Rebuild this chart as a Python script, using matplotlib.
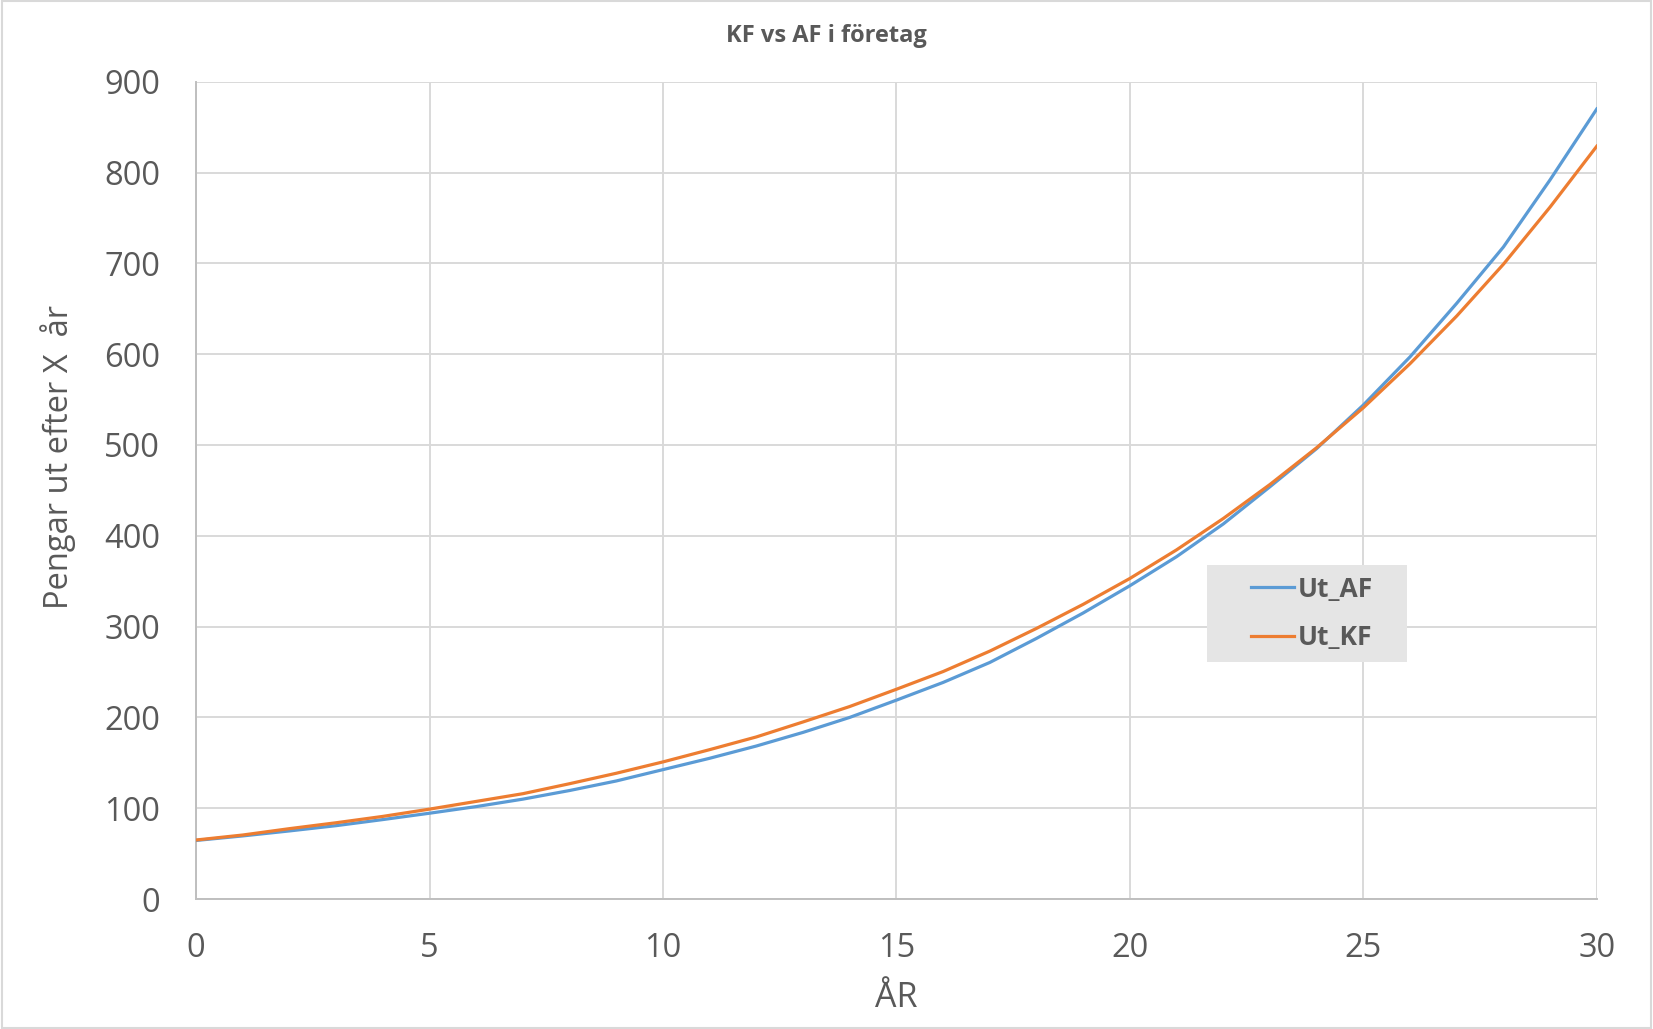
import matplotlib
matplotlib.use('Agg')
import matplotlib.pyplot as plt
from matplotlib.patches import Rectangle

# data (one point per year)
years = list(range(0, 31))
ut_af = [64.5, 69.5, 75, 80.8, 87.5, 94.5, 101.8, 110, 119.5, 130,
         142.5, 155, 168.5, 183.5, 200, 219, 238.5, 260.5, 287, 315,
         345, 377, 413, 454, 496, 544, 597, 656, 718, 792, 870]
ut_kf = [65, 70.5, 77.5, 84, 91, 99, 107.5, 116, 127, 138.5,
         151, 164.5, 178.5, 195, 212, 231, 250.5, 273, 298, 324.5,
         353, 384.5, 419, 456.5, 497, 541, 589.5, 642, 699, 762, 829]
series_names = ['Ut_AF', 'Ut_KF']
x_ticks = [0, 5, 10, 15, 20, 25, 30]
y_ticks = [0, 100, 200, 300, 400, 500, 600, 700, 800, 900]

plt.rcParams['font.family'] = ['Open Sans', 'DejaVu Sans']
txt = '#595959'
grid_c = '#d9d9d9'

fig = plt.figure(figsize=(16.53, 10.29), dpi=100)
ax = fig.add_axes([0.1186, 0.1263, 0.966 - 0.1186, 0.9206 - 0.1263])

ax.plot(years, ut_af, color='#5B9BD5', lw=2.3, label=series_names[0], zorder=3)
ax.plot(years, ut_kf, color='#ED7D31', lw=2.3, label=series_names[1], zorder=3)

ax.set_xlim(0, 30)
ax.set_ylim(0, 900)
ax.set_xticks(x_ticks)
ax.set_yticks(y_ticks)
ax.grid(True, color=grid_c, lw=1.4)
ax.set_axisbelow(True)
for s in ['top', 'right']:
    ax.spines[s].set_visible(False)
for s in ['left', 'bottom']:
    ax.spines[s].set_color('#bfbfbf')
    ax.spines[s].set_linewidth(1.4)
ax.tick_params(length=0, labelsize=23.5, labelcolor=txt)
ax.tick_params(axis='y', pad=26)
ax.tick_params(axis='x', pad=24)

fig.text(0.5, 0.965, 'KF vs AF i företag', ha='center', va='center',
         fontsize=17, fontweight='bold', color=txt)
# x-axis title sits under the middle of the plot area
fig.text(0.5423, 0.030, 'ÅR', ha='center', va='center', fontsize=24.5, color=txt)
fig.text(0.035, 0.556, 'Pengar ut efter X  år', ha='center', va='center',
         rotation=90, fontsize=23.5, color=txt)

# grey legend box, drawn on its own (inside the axes so the legend sits on top)
ax.add_patch(Rectangle((0.730, 0.357), 0.121, 0.094, transform=fig.transFigure,
                       facecolor='#e5e5e5', edgecolor='none', zorder=4, clip_on=False))
leg = ax.legend(loc='center', bbox_to_anchor=(0.7937, 0.404), bbox_transform=fig.transFigure,
                frameon=False, fontsize=19, handlelength=1.65, handletextpad=0.15,
                labelspacing=0.8, borderpad=0, borderaxespad=0)
leg.set_zorder(6)
for t in leg.get_texts():
    t.set_color(txt)
    t.set_fontweight('bold')

# chart border
fig.patches.append(Rectangle((0.001, 0.001), 0.998, 0.998, transform=fig.transFigure,
                             fill=False, edgecolor='#d9d9d9', lw=1.5))

fig.savefig('out.png', dpi=100)
